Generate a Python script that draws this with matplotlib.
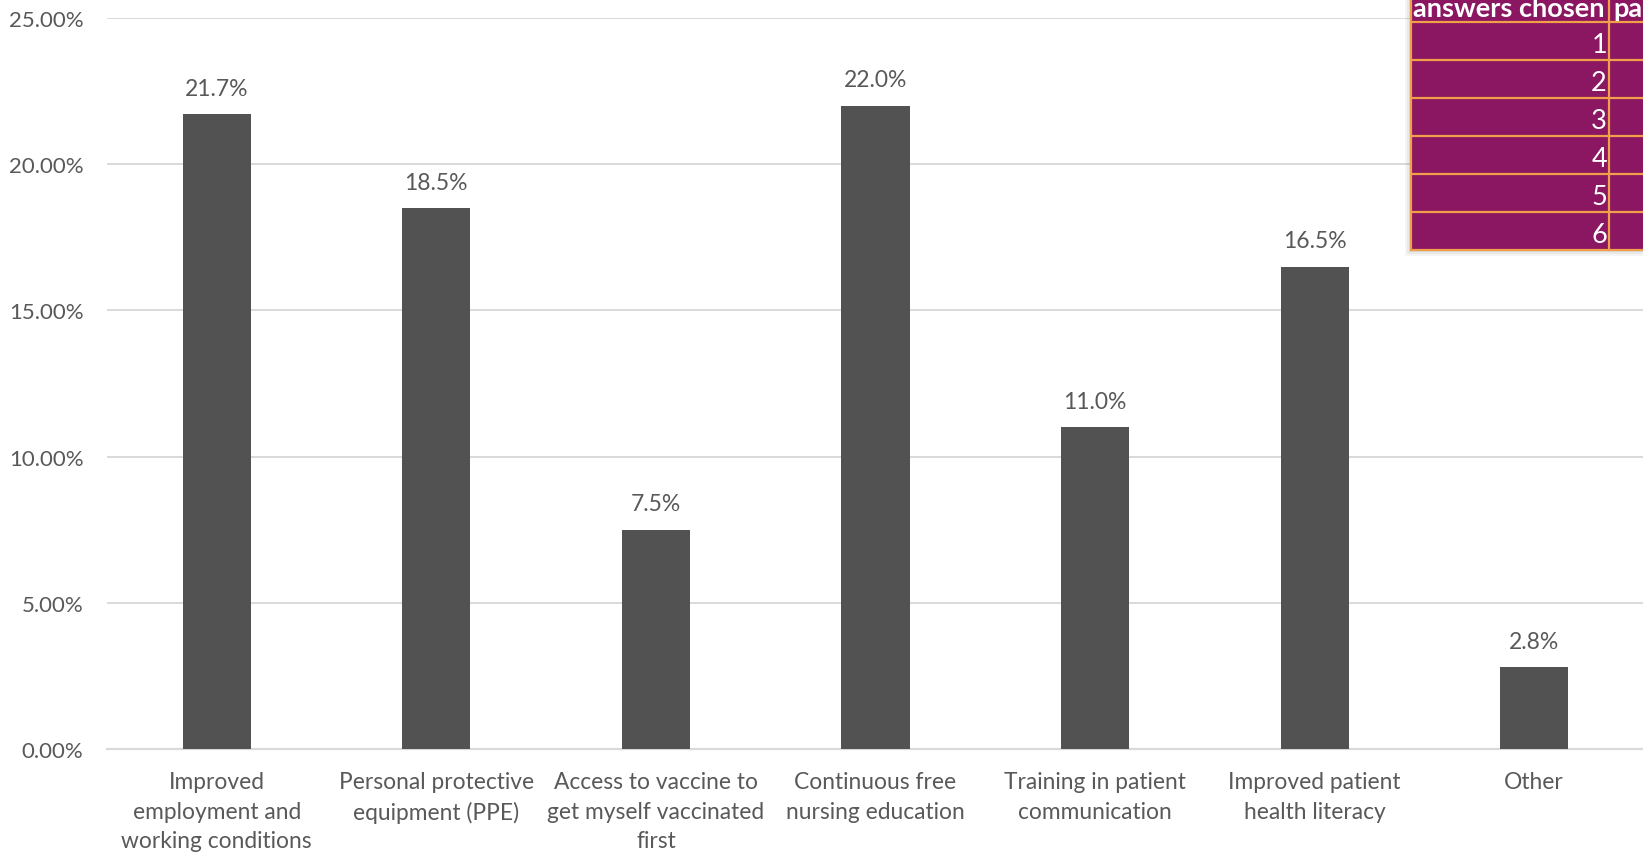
import matplotlib
matplotlib.use("Agg")
import matplotlib.pyplot as plt
from matplotlib.patches import Rectangle
from matplotlib.ticker import FuncFormatter

plt.rcParams['font.family'] = ['Lato', 'DejaVu Sans']

# Survey results: share of respondents choosing each support measure (%)
categories = [
    "Improved\nemployment and\nworking conditions",
    "Personal protective\nequipment (PPE)",
    "Access to vaccine to\nget myself vaccinated\nfirst",
    "Continuous free\nnursing education",
    "Training in patient\ncommunication",
    "Improved patient\nhealth literacy",
    "Other",
]
shares = [21.7, 18.5, 7.5, 22.0, 11.0, 16.5, 2.8]
y_ticks = [0, 5, 10, 15, 20, 25]

# Summary table in the corner
table_header = ["answers chosen", "participants"]
answers_chosen = [1, 2, 3, 4, 5, 6]

W, H = 1643, 853
fig = plt.figure(figsize=(W / 100, H / 100), dpi=100)
fig.patch.set_facecolor("white")

text_grey = "#595959"
bar_grey = "#525252"
grid_grey = "#D9D9D9"

# Main bar chart, positioned in pixel units
ax_l, ax_r, ax_t, ax_b = 107, 1644, 19, 750
ax = fig.add_axes([ax_l / W, (H - ax_b) / H, (ax_r - ax_l) / W, (ax_b - ax_t) / H])
x = list(range(len(categories)))
ax.bar(x, shares, width=0.31, color=bar_grey, zorder=3)
ax.set_xlim(-0.5, len(categories) - 0.5)
ax.set_ylim(0, 25)
ax.set_yticks(y_ticks)
ax.yaxis.set_major_formatter(FuncFormatter(lambda v, p: f"{v:.2f}%"))
ax.set_xticks(x)
ax.set_xticklabels(categories, linespacing=1.5)
ax.grid(axis="y", color=grid_grey, linewidth=1.4, zorder=0)
for s in ["top", "right", "left"]:
    ax.spines[s].set_visible(False)
ax.spines["bottom"].set_color(grid_grey)
ax.spines["bottom"].set_linewidth(1.6)
ax.tick_params(axis="y", length=0, pad=17, labelsize=16, labelcolor=text_grey)
ax.tick_params(axis="x", length=0, pad=16, labelsize=16.4, labelcolor=text_grey)

for xi, v in zip(x, shares):
    ax.annotate(f"{v:.1f}%", (xi, v), xytext=(0, 11), textcoords="offset points",
                ha="center", va="bottom", fontsize=16.5, color=text_grey)

# Corner table drawn on an overlay axes in pixel coordinates
tax = fig.add_axes([0, 0, 1, 1])
tax.set_xlim(0, W)
tax.set_ylim(H, 0)
tax.axis("off")

purple = "#8B1661"
orange = "#F0A04B"
t_left, t_div, t_right = 1411, 1609, 1700
row_edges = [-20, 23, 61, 99, 137, 175, 213, 251]

# soft drop shadow
for off, a in [(6, 0.08), (4, 0.10), (2, 0.14)]:
    tax.add_patch(Rectangle((t_left - off, row_edges[0]), t_right - t_left,
                            row_edges[-1] - row_edges[0] + off,
                            facecolor="#808080", alpha=a, edgecolor="none", zorder=4))

tax.add_patch(Rectangle((t_left, row_edges[0]), t_right - t_left,
                        row_edges[-1] - row_edges[0], facecolor=purple,
                        edgecolor="none", zorder=5))
for yy in row_edges[1:]:
    tax.plot([t_left, t_right], [yy, yy], color=orange, lw=1.6, zorder=6,
             solid_capstyle="butt")
for xx in [t_left, t_div]:
    tax.plot([xx, xx], [row_edges[0], row_edges[-1]], color=orange, lw=1.6, zorder=6)

tax.text(t_left + 2, 17, table_header[0], color="white", fontsize=19.5,
         fontweight="bold", ha="left", va="baseline", zorder=7)
tax.text(t_div + 4, 17, table_header[1], color="white", fontsize=19.5,
         fontweight="bold", ha="left", va="baseline", zorder=7, clip_on=True)
for i, n in enumerate(answers_chosen):
    tax.text(t_div - 2, row_edges[i + 2] - 8, str(n), color="white", fontsize=19.5,
             ha="right", va="baseline", zorder=7)

fig.savefig("out.png", dpi=100, facecolor="white")
